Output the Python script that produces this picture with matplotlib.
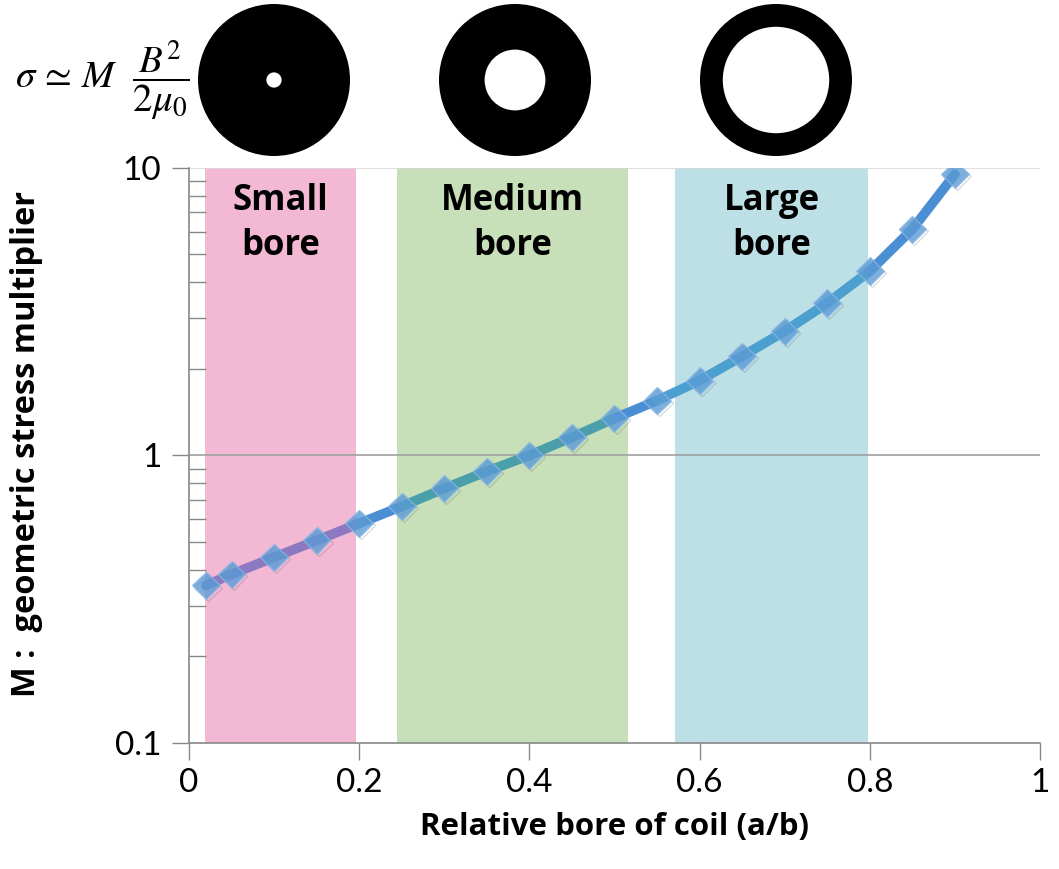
import matplotlib
matplotlib.use("Agg")
import matplotlib.pyplot as plt
import matplotlib.patheffects as pe
from matplotlib.patches import Wedge
from matplotlib.ticker import FixedLocator, NullFormatter

plt.rcParams['font.family'] = ['Lato', 'DejaVu Sans']
plt.rcParams['mathtext.fontset'] = 'stix'
LABEL_FONT = ['Open Sans', 'DejaVu Sans']

# relative bore a/b and geometric stress multiplier M
bore = [0.02, 0.05, 0.10, 0.15, 0.20, 0.25, 0.30, 0.35, 0.40, 0.45,
        0.50, 0.55, 0.60, 0.65, 0.70, 0.75, 0.80, 0.85, 0.90]
mult = [0.353, 0.386, 0.442, 0.506, 0.580, 0.665, 0.767, 0.880, 1.00, 1.155,
        1.345, 1.55, 1.82, 2.21, 2.70, 3.38, 4.37, 6.11, 9.49]

# shaded bore regions
band_names = ["Small\nbore", "Medium\nbore", "Large\nbore"]
band_lo = [0.019, 0.244, 0.571]
band_hi = [0.196, 0.516, 0.798]
band_fill = ["#f3b8d4", "#c7e0b9", "#bde0e6"]
band_line = ["#8c79c1", "#4a9fab", "#4ba0d0"]
line_plain = "#4a8ed3"

# inner/outer radius of the example coil cross-sections
ring_ratio = [0.1, 0.4, 0.7]

fig = plt.figure(figsize=(10.59, 8.69), dpi=100)
ax = fig.add_axes([0.1785, 0.145, 0.8035, 0.662])

for lo, hi, c, name in zip(band_lo, band_hi, band_fill, band_names):
    ax.axvspan(lo, hi, color=c, lw=0, zorder=0)
    ax.text((lo + hi) / 2, 6.4, name, ha='center', va='center', fontsize=25,
            fontweight='bold', family=LABEL_FONT, linespacing=1.32, zorder=2)

ax.axhline(1, color='#a0a0a0', lw=1.2, zorder=1)
ax.axhline(10, color='#d8d8d8', lw=1.2, zorder=1)


def seg_color(xm):
    for lo, hi, c in zip(band_lo, band_hi, band_line):
        if lo <= xm <= hi:
            return c
    return line_plain


for i in range(len(bore) - 1):
    xm = (bore[i] + bore[i + 1]) / 2
    ax.plot(bore[i:i + 2], mult[i:i + 2], color=seg_color(xm), lw=7,
            solid_capstyle='round', zorder=3)

ax.plot(bore, mult, ls='none', marker='D', ms=14, mfc='#5b9bd5', mec='#8ab8e6',
        mew=1, alpha=0.8, zorder=4,
        path_effects=[pe.SimpleLineShadow(offset=(1.5, -1.5), shadow_color='#555555',
                                          alpha=0.2), pe.Normal()])

ax.set_yscale('log')
ax.set_xlim(0, 1)
ax.set_ylim(0.1, 10)
ax.set_xticks([0, 0.2, 0.4, 0.6, 0.8, 1.0])
ax.set_xticklabels(["0", "0.2", "0.4", "0.6", "0.8", "1"])
ax.set_yticks([0.1, 1, 10])
ax.set_yticklabels(["0.1", "1", "10"])
ax.yaxis.set_minor_locator(FixedLocator([k * 10.0 ** e for e in (-1, 0) for k in range(2, 10)]))
ax.yaxis.set_minor_formatter(NullFormatter())

ax.tick_params(axis='x', which='major', direction='out', length=12, width=1,
               color='#888888', labelsize=24, pad=6)
ax.tick_params(axis='y', which='major', direction='out', length=12, width=1,
               color='#888888', labelsize=24, pad=8)
ax.tick_params(axis='y', which='minor', direction='in', length=12, width=1,
               color='#888888')

for s in ('top', 'right'):
    ax.spines[s].set_visible(False)
for s in ('left', 'bottom'):
    ax.spines[s].set_color('#888888')
    ax.spines[s].set_linewidth(1.2)

ax.set_xlabel("Relative bore of coil (a/b)", fontsize=22.5, fontweight='bold',
              family=LABEL_FONT, labelpad=10)
ax.set_ylabel("M :  geometric stress multiplier", fontsize=23.5, fontweight='bold',
              family=LABEL_FONT)
ax.yaxis.set_label_coords(-0.172, 0.52)

# header: stress formula and coil cross-sections, in pixel coordinates
top = fig.add_axes([0, 0, 1, 1], zorder=-1)
top.set_xlim(0, 1059)
top.set_ylim(869, 0)
top.set_aspect('equal')
top.axis('off')

outer_r = 76
for cx, ratio in zip([274, 515, 776], ring_ratio):
    top.add_patch(Wedge((cx, 80), outer_r, 0, 360, width=outer_r * (1 - ratio),
                        color='black', lw=0))

fig.text(0.014, 0.908, r'$\sigma\,\simeq\,M\ \ \dfrac{B^2}{2\mu_0}$', fontsize=28,
         ha='left', va='center')

fig.savefig("out.png", dpi=100)
